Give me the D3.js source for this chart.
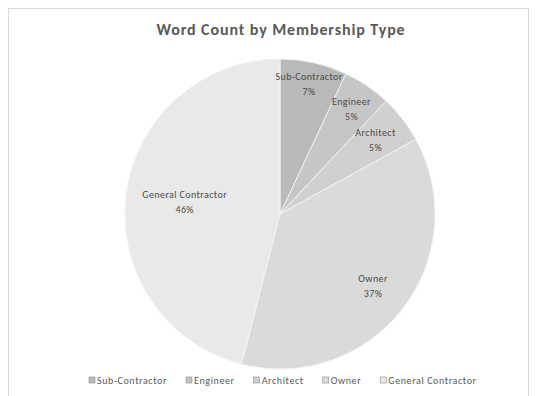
<!DOCTYPE html>
<html><head><meta charset="utf-8">
<script src="https://cdn.jsdelivr.net/npm/d3@7"></script>
<style>body{margin:0;background:#fff;}svg{display:block;}</style>
</head><body>
<svg id="c" width="541" height="396"></svg>
<script>
const categories = ["Sub-Contractor","Engineer","Architect","Owner","General Contractor"];
const values = [7,5,5,37,46];
const percentLabels = ["7%","5%","5%","37%","46%"];
const colors = ["#b9b9b9","#c6c6c6","#d0d0d0","#dadada","#e9e9e9"];
const title = "Word Count by Membership Type";

const svg = d3.select("#c");
const font = "Calibri, 'Carlito', 'Open Sans', 'DejaVu Sans', sans-serif";
svg.append("rect").attr("x",8.5).attr("y",8.5).attr("width",520).attr("height",392)
  .attr("fill","#fff").attr("stroke","#d9d9d9");
svg.append("text").attr("x",281).attr("y",35).attr("text-anchor","middle")
  .attr("font-family",font).attr("font-weight","bold").attr("font-size",16)
  .attr("letter-spacing",0.9)
  .attr("fill","#595959").text(title);

const cx=280, cy=214, r=155;
const data = categories.map((c,i)=>({cat:c,value:values[i],label:percentLabels[i],color:colors[i]}));
const pie = d3.pie().value(d=>d.value).sort(null);
const arcs = pie(data);
const arc = d3.arc().innerRadius(0).outerRadius(r);
const g = svg.append("g").attr("transform",`translate(${cx},${cy})`);
g.selectAll("path").data(arcs).join("path").attr("d",arc)
  .attr("fill",d=>d.data.color).attr("stroke","#f2f2f2").attr("stroke-width",1);

const labelR = [0.86,0.82,0.78,0.76,0.62];
arcs.forEach((a,i)=>{
  const la = d3.arc().innerRadius(r*labelR[i]).outerRadius(r*labelR[i]);
  const [x,y] = la.centroid(a);
  const t = g.append("text").attr("text-anchor","middle").attr("font-family",font)
    .attr("font-size",10).attr("letter-spacing",0.4).attr("fill","#4a4a4a");
  t.append("tspan").attr("x",x).attr("y",y-4).text(a.data.cat);
  t.append("tspan").attr("x",x).attr("y",y+11).text(a.data.label);
});

// legend
const lg = svg.append("g").attr("transform","translate(0,381)");
let x = 89;
categories.forEach((c,i)=>{
  lg.append("rect").attr("x",x).attr("y",-4).attr("width",6).attr("height",6)
    .attr("fill",colors[i]).attr("stroke","#8c8c8c").attr("stroke-width",0.6);
  const t = lg.append("text").attr("x",x+8).attr("y",3).attr("font-family",font)
    .attr("font-size",10).attr("letter-spacing",0.6).attr("fill","#595959").text(c);
  const w = t.node().getComputedTextLength();
  x += 8 + w + 19;
});
</script>
</body></html>
